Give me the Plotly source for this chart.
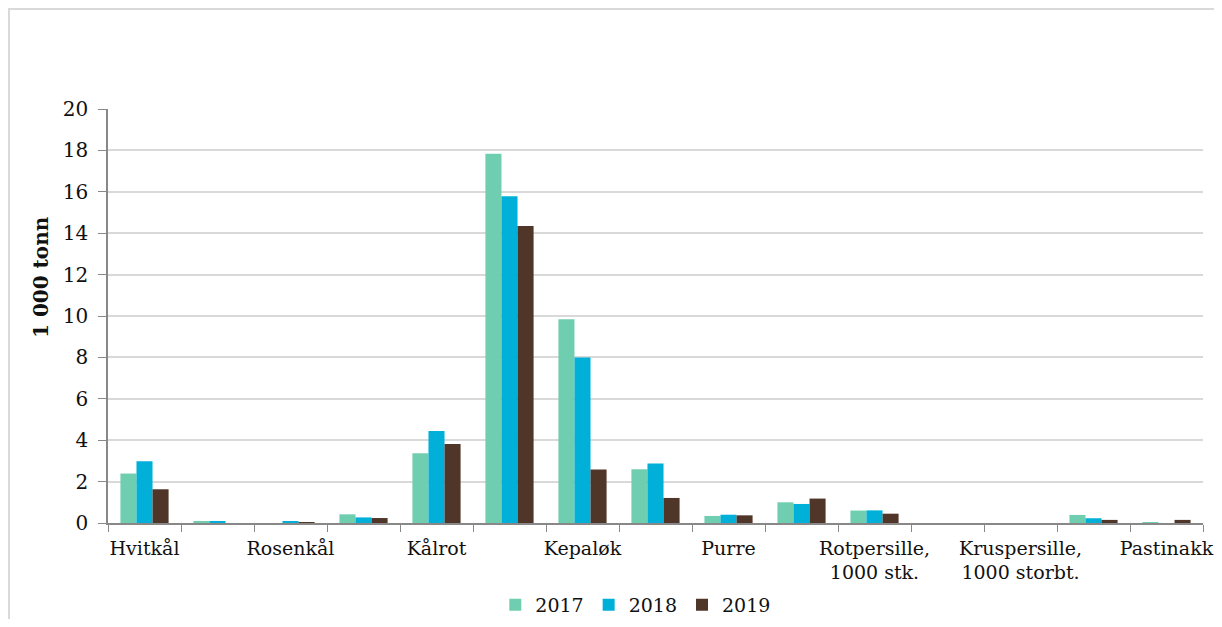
import plotly.graph_objects as go

categories = ["Hvitkål", "Rødkål", "Rosenkål", "Blomkål", "Kålrot", "Gulrot",
              "Kepaløk", "Rødbete", "Purre", "Knollselleri",
              "Rotpersille,<br>1000 stk.", "Stilkselleri",
              "Kruspersille,<br>1000 storbt.", "Sjalottløk", "Pastinakk"]
shown_labels = ["Hvitkål", "", "Rosenkål", "", "Kålrot", "", "Kepaløk", "",
                "Purre", "", "Rotpersille,<br>1000 stk.", "",
                "Kruspersille,<br>1000 storbt.", "", "Pastinakk"]

v2017 = [2.39, 0.08, 0.0, 0.42, 3.37, 17.84, 9.84, 2.60, 0.34, 1.00, 0.60, 0.0, 0.0, 0.39, 0.03]
v2018 = [2.98, 0.08, 0.06, 0.27, 4.44, 15.79, 8.00, 2.87, 0.40, 0.92, 0.61, 0.0, 0.0, 0.23, 0.0]
v2019 = [1.63, 0.0, 0.03, 0.24, 3.82, 14.35, 2.58, 1.21, 0.37, 1.18, 0.45, 0.0, 0.0, 0.15, 0.15]

series = [("2017", v2017, "#70CEB0"), ("2018", v2018, "#00B0D8"), ("2019", v2019, "#4F3628")]
y_ticks = [0, 2, 4, 6, 8, 10, 12, 14, 16, 18, 20]

FONT = "DejaVu Serif"
PW, PH = 1095, 414

fig = go.Figure()
for name, vals, color in series:
    fig.add_trace(go.Bar(x=categories, y=vals, name=name, marker_color=color,
                         marker_line_width=0))

fig.update_layout(
    width=1206, height=611,
    paper_bgcolor="white", plot_bgcolor="white",
    margin=dict(l=100, r=11, t=101, b=96, autoexpand=False),
    barmode="group", bargap=0.34, bargroupgap=0,
    font=dict(family=FONT, size=20, color="#111111"),
    showlegend=True,
    legend=dict(orientation="h", x=0.482, xanchor="center", y=-0.198, yanchor="middle",
                font=dict(family=FONT, size=19, color="#111111"),
                itemwidth=30, traceorder="normal"),
    xaxis=dict(
        type="category", tickmode="array", tickvals=categories, ticktext=shown_labels,
        tickson="boundaries", ticks="outside", ticklen=7, tickcolor="#888888",
        showline=True, linecolor="#888888", linewidth=1.5,
        showgrid=False, tickangle=0, ticklabelstandoff=7,
        tickfont=dict(family=FONT, size=19, color="#111111"),
    ),
    yaxis=dict(
        range=[0, 20], tickvals=y_ticks, ticks="outside", ticklen=8, tickcolor="#888888",
        showline=True, linecolor="#888888", linewidth=1.5,
        showgrid=True, gridcolor="#D9D9D9", gridwidth=1.5,
        zeroline=False, ticklabelstandoff=6,
        tickfont=dict(family=FONT, size=20, color="#111111"),
    ),
    shapes=[dict(type="rect", xref="paper", yref="paper",
                 x0=-99/PW, x1=1.2, y0=-0.5, y1=1 + 100/PH,
                 line=dict(color="#D9D9D9", width=2), fillcolor="rgba(0,0,0,0)",
                 layer="below")],
    annotations=[dict(text="<b>1 000 tonn</b>", textangle=-90, xref="paper", yref="paper",
                      x=-67/PW, y=(523-277)/PH, xanchor="center", yanchor="middle",
                      showarrow=False, font=dict(family=FONT, size=20, color="#111111"))],
)

fig.write_html("out.html")
